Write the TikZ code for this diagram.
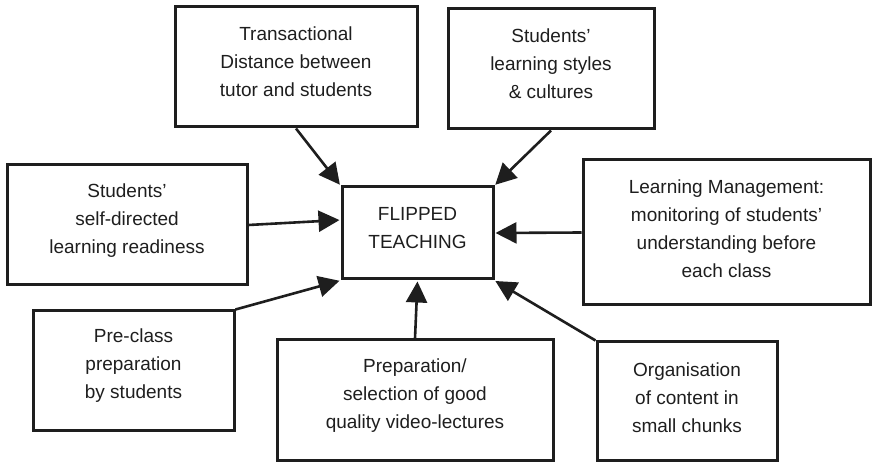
\documentclass[tikz,border=0pt]{standalone}
\usepackage{fontspec}
\setmainfont{Liberation Sans}
\usetikzlibrary{arrows.meta,calc}
\definecolor{ink}{HTML}{1E1E1E}
\tikzset{
  boxnode/.style={draw=ink, line width=3pt, inner sep=0pt, rectangle},
  txtnode/.style={align=center, text=ink, inner sep=0pt, font=\fontsize{19}{28}\selectfont},
  conn/.style={draw=ink, line width=2.6pt, -{Triangle[length=21pt,width=21pt]}, shorten >=1pt},
}
\begin{document}
\begin{tikzpicture}[x=1pt,y=-1pt]
\useasboundingbox (0,0) rectangle (873,462);
% boxes
\node[boxnode, minimum width=242pt, minimum height=120pt] (b1) at (296,67) {};
\node[txtnode] (t1) at (296,62) {Transactional\\Distance between\\tutor and students};
\node[boxnode, minimum width=206pt, minimum height=120pt] (b2) at (551,69) {};
\node[txtnode] (t2) at (551,63.5) {Students’\\learning styles\\\& cultures};
\node[boxnode, minimum width=240pt, minimum height=120pt] (b3) at (127,225) {};
\node[txtnode] (t3) at (127,220.5) {Students’\\self-directed\\learning readiness};
\node[boxnode, minimum width=151pt, minimum height=92pt] (f) at (417.5,233) {};
\node[txtnode] (tf) at (417.5,228.5) {FLIPPED\\TEACHING};
\node[boxnode, minimum width=287pt, minimum height=145pt] (lm) at (726.5,232.5) {};
\node[txtnode] (tlm) at (726.5,229) {Learning Management:\\monitoring of students’\\understanding before\\each class};
\node[boxnode, minimum width=201pt, minimum height=119pt] (pc) at (133.5,370.5) {};
\node[txtnode] (tpc) at (133.5,365.5) {Pre-class\\preparation\\by students};
\node[boxnode, minimum width=276pt, minimum height=120pt] (v) at (415,400) {};
\node[txtnode] (tv) at (415,395.5) {Preparation/\\selection of good\\quality video-lectures};
\node[boxnode, minimum width=180pt, minimum height=118pt] (o) at (687,401) {};
\node[txtnode] (to) at (687,397.5) {Organisation\\of content in\\small chunks};
% connectors
\draw[conn] (b1.south) -- (f.north west);
\draw[conn] (b2.south) -- (f.north east);
\draw[conn] (b3.east) -- ($(f.west)+(0,-13)$);
\draw[conn] (lm.west) -- (f.east);
\draw[conn] (pc.north east) -- (f.south west);
\draw[conn] (v.north) -- (f.south);
\draw[conn] (o.north west) -- (f.south east);
\end{tikzpicture}
\end{document}
